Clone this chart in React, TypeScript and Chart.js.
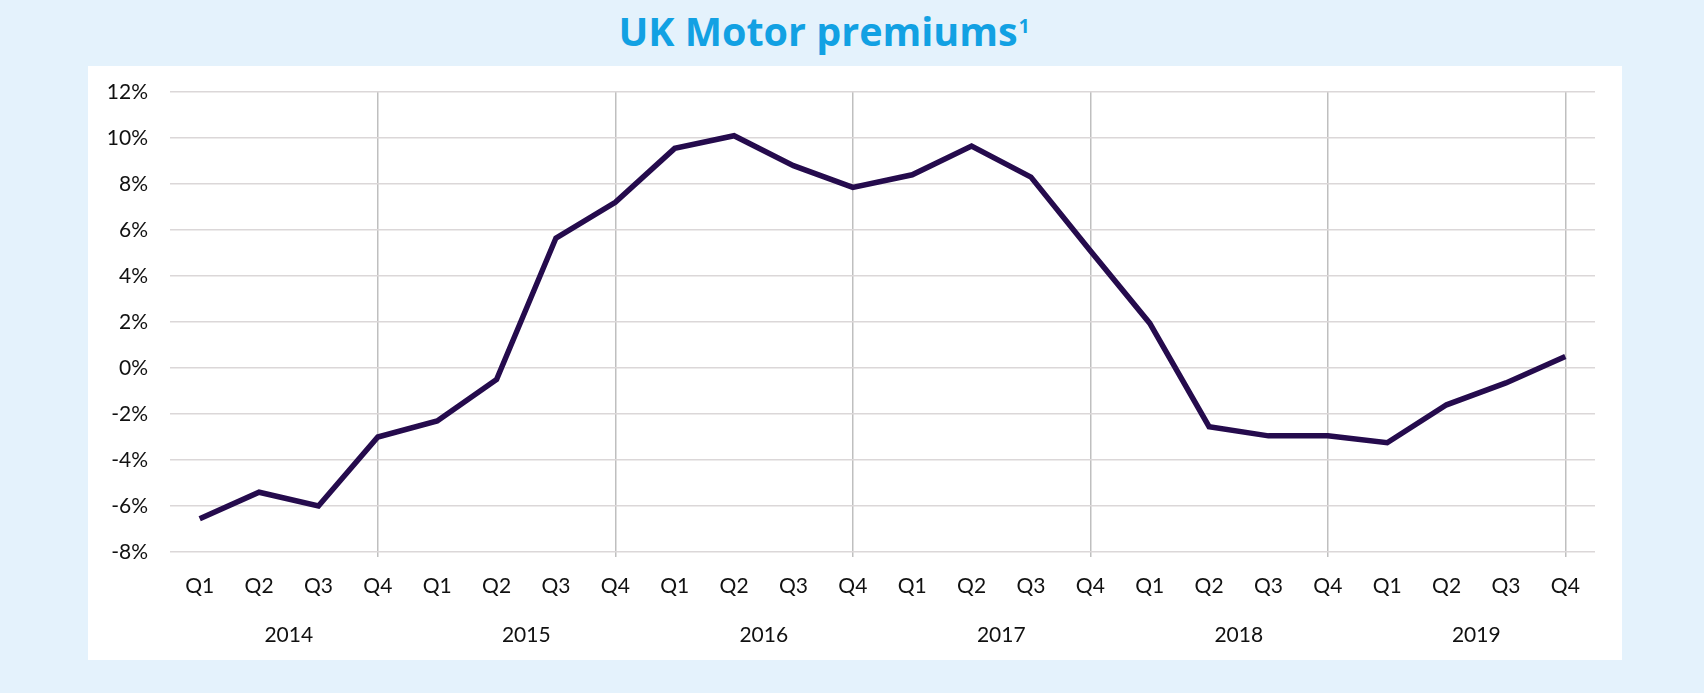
import React, { useEffect, useRef } from 'react';
import { Chart, registerables } from 'chart.js';

Chart.register(...registerables);

// ---- data ----
const quarterLabels = [
  'Q1', 'Q2', 'Q3', 'Q4',
  'Q1', 'Q2', 'Q3', 'Q4',
  'Q1', 'Q2', 'Q3', 'Q4',
  'Q1', 'Q2', 'Q3', 'Q4',
  'Q1', 'Q2', 'Q3', 'Q4',
  'Q1', 'Q2', 'Q3', 'Q4',
];
const yearLabels = ['2014', '2015', '2016', '2017', '2018', '2019'];
const premiumChange = [
  -6.55, -5.4, -6.0, -3.0,
  -2.3, -0.5, 5.65, 7.2,
  9.55, 10.1, 8.8, 7.85,
  8.4, 9.65, 8.3, 5.1,
  1.95, -2.55, -2.95, -2.95,
  -3.25, -1.6, -0.65, 0.5,
];
const yMin = -8;
const yMax = 12;
const yStep = 2;
const titleText = 'UK Motor premiums';
const titleNote = '1';

const TICK_FONT = { family: 'Lato', size: 21 };

export default function App() {
  const ref = useRef<HTMLCanvasElement | null>(null);

  useEffect(() => {
    if (!ref.current) return;
    const chart = new Chart(ref.current, {
      type: 'line',
      data: {
        labels: quarterLabels,
        datasets: [
          {
            data: premiumChange,
            borderColor: '#250B4D',
            borderWidth: 5.5,
            pointRadius: 0,
            tension: 0,
            fill: false,
            borderJoinStyle: 'miter',
          },
        ],
      },
      options: {
        animation: false,
        responsive: false,
        maintainAspectRatio: false,
        layout: { padding: { top: 26, right: 27, left: 0, bottom: 13 } },
        plugins: {
          legend: { display: false },
          tooltip: { enabled: false },
          title: { display: false },
        },
        scales: {
          x: {
            type: 'category',
            offset: true,
            position: 'bottom',
            border: { display: false },
            grid: {
              display: true,
              offset: false,
              drawOnChartArea: true,
              drawTicks: true,
              tickLength: 5,
              lineWidth: 1.5,
              color: (ctx: any) => (ctx.index % 4 === 3 ? '#BFBFBF' : 'rgba(0,0,0,0)'),
            },
            ticks: {
              font: TICK_FONT,
              color: '#111111',
              padding: 17,
              maxRotation: 0,
              autoSkip: false,
            },
            afterFit: (scale: any) => {
              scale.height = 47;
              scale.paddingLeft = 0;
              scale.paddingRight = 0;
            },
          },
          x2: {
            type: 'category',
            labels: yearLabels,
            offset: true,
            position: 'bottom',
            border: { display: false },
            grid: { display: false },
            ticks: {
              font: TICK_FONT,
              color: '#111111',
              padding: 16,
              maxRotation: 0,
              autoSkip: false,
            },
            afterFit: (scale: any) => {
              scale.height = 48;
              scale.paddingLeft = 0;
              scale.paddingRight = 0;
            },
          },
          y: {
            min: yMin,
            max: yMax,
            border: { display: false },
            grid: {
              color: '#DBD7D8',
              lineWidth: 1.5,
              drawTicks: false,
            },
            ticks: {
              stepSize: yStep,
              font: TICK_FONT,
              color: '#111111',
              padding: 22,
              callback: (v: any) => `${v}%`,
            },
            afterFit: (scale: any) => {
              scale.width = 82;
              scale.paddingTop = 0;
              scale.paddingBottom = 0;
            },
          },
        },
      },
    } as any);
    return () => chart.destroy();
  }, []);

  return (
    <div
      style={{
        position: 'fixed',
        left: 0,
        top: 0,
        width: 1704,
        height: 693,
        background: '#E4F2FC',
        overflow: 'hidden',
      }}
    >
      <div
        style={{
          position: 'absolute',
          left: 0,
          top: 12,
          width: 1648,
          textAlign: 'center',
          fontFamily: '"Open Sans", sans-serif',
          fontWeight: 700,
          fontSize: 39.5,
          lineHeight: '38px',
          color: '#12A1E3',
          whiteSpace: 'nowrap',
        }}
      >
        {titleText}
        <span style={{ fontSize: 19, position: 'relative', top: -13, marginLeft: 1 }}>{titleNote}</span>
      </div>
      <div
        style={{
          position: 'absolute',
          left: 88,
          top: 66,
          width: 1534,
          height: 594,
          background: '#FFFFFF',
        }}
      >
        <canvas ref={ref} width={1534} height={594} style={{ display: 'block', width: 1534, height: 594 }} />
      </div>
    </div>
  );
}
